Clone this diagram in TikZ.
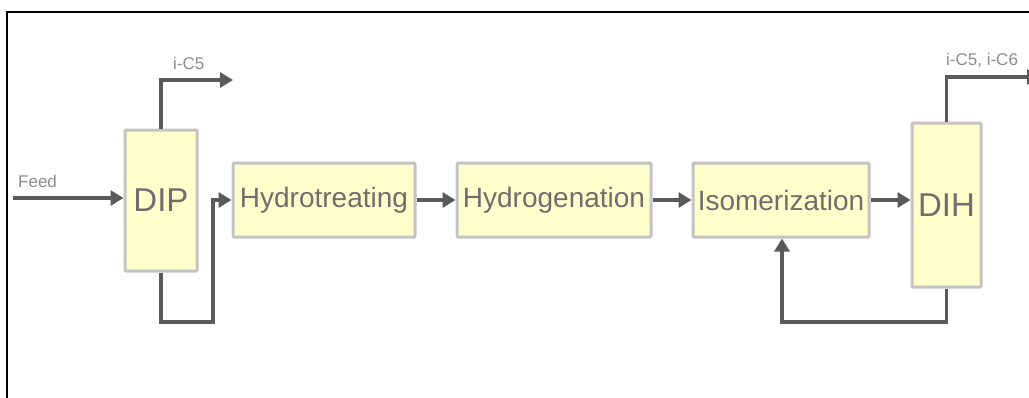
\documentclass[tikz,border=0pt]{standalone}
\usepackage{fontspec}
\setmainfont{Liberation Sans}
\usetikzlibrary{arrows.meta}
\definecolor{boxfill}{HTML}{FFFFCC}
\definecolor{boxline}{HTML}{C3C3C3}
\definecolor{flowcol}{HTML}{5A5A5A}
\definecolor{txtcol}{HTML}{6E6E6E}
\definecolor{lblcol}{HTML}{8C8C8C}
\tikzset{
  unit/.style={draw=boxline, fill=boxfill, line width=3pt, rounded corners=1pt,
    inner sep=0pt, text=txtcol, font=\fontsize{28}{30}\selectfont},
  column/.style={unit, font=\fontsize{33}{35}\selectfont},
  flow/.style={draw=flowcol, line width=3.8pt, -{Triangle[length=13pt,width=15pt]}},
  lbl/.style={text=lblcol, font=\fontsize{17}{19}\selectfont, inner sep=0pt}
}
\begin{document}
\begin{tikzpicture}[x=1pt,y=-1pt]
\useasboundingbox (0,0) rectangle (1029,397);
\draw[black, line width=1.5pt] (7,400) -- (7,12) -- (1032,12);

\node[column, minimum width=72pt, minimum height=141pt] (dip) at (161,200.5) {DIP};
\node[unit, minimum width=182pt, minimum height=74pt] (ht) at (324,200) {Hydrotreating};
\node[unit, minimum width=194pt, minimum height=74pt] (hg) at (554,200) {Hydrogenation};
\node[unit, minimum width=176pt, minimum height=74pt] (iso) at (781,200) {Isomerization};
\node[column, minimum width=69pt, minimum height=164pt] (dih) at (946.5,205) {DIH};

\coordinate (feed) at (13,198);
\coordinate (ic5) at (233,80);
\coordinate (dipb) at (213,322);
\coordinate (ic56) at (1040,77);
\coordinate (dihb) at (782,322);

\node[lbl, anchor=south west] (feedl) at (18,188) {Feed};
\node[lbl, anchor=south west] (ic5l) at (173,70) {i-C5};
\node[lbl, anchor=south west] (ic56l) at (946,68) {i-C5, i-C6};

\draw[flow] (feed) -- (feed -| dip.west);
\draw[flow] (dip.north) |- (ic5);
\draw[flow] (dip.south) |- (dipb) |- (ht.west);
\draw[flow] (ht.east) -- (hg.west);
\draw[flow] (hg.east) -- (iso.west);
\draw[flow] (iso.east) -- (iso.east -| dih.west);
\draw[flow] (dih.north) |- (ic56);
\draw[flow] (dih.south) |- (dihb) -- (dihb |- iso.south);
\end{tikzpicture}
\end{document}
